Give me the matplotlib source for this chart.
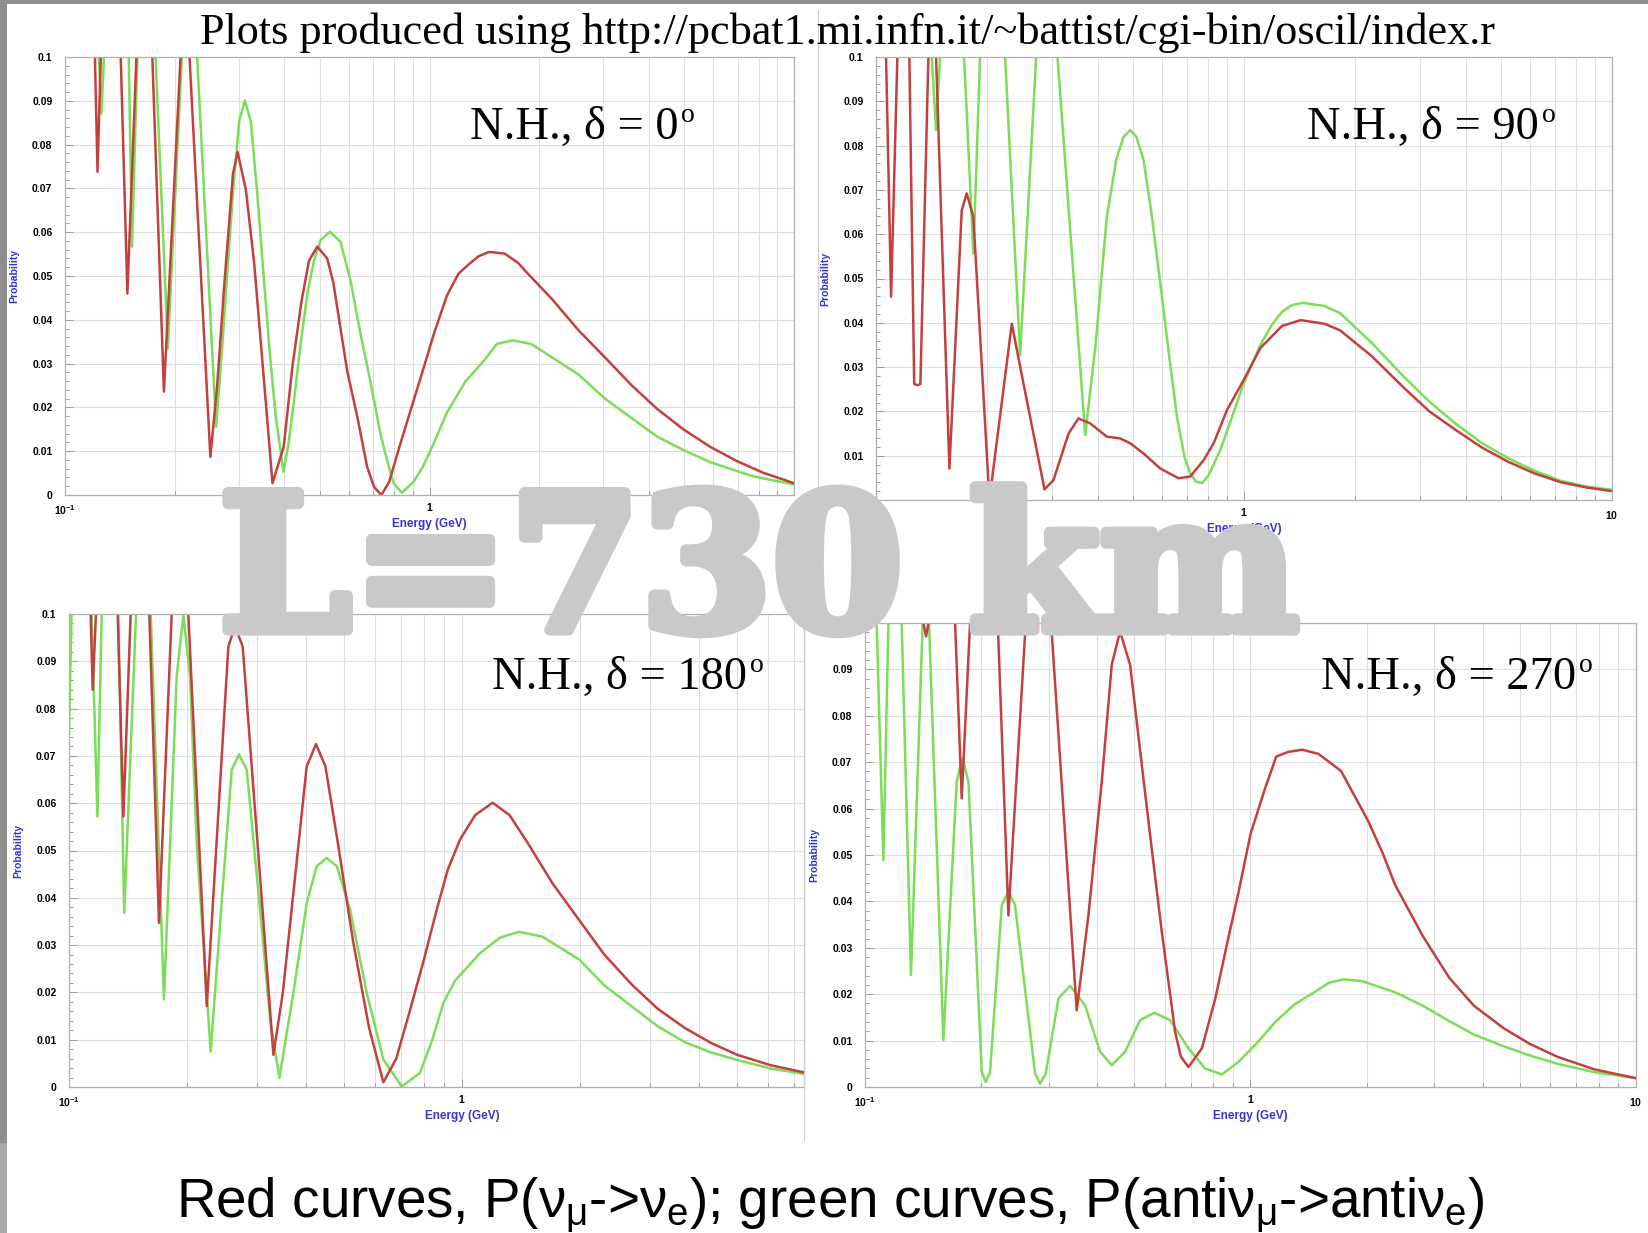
import numpy as np
import matplotlib
matplotlib.use("Agg")
import matplotlib.pyplot as plt
from matplotlib import font_manager, patheffects
from matplotlib.patches import Rectangle
from matplotlib.lines import Line2D
from matplotlib.ticker import FixedLocator, MultipleLocator, NullFormatter

nan = np.nan

# energies in GeV, probabilities; nan = curve is off the top of the scale
# N.H., delta = 0
e_red_0 = [0.1208, 0.1228, 0.1254, nan, 0.1422, 0.1483, 0.157, nan, 0.1736, 0.1868, 0.2075, nan,
           0.2196, 0.2505, 0.2615, 0.2737, 0.289, 0.2976, 0.3136, 0.3304, 0.352, 0.3709,
           0.398, 0.4206, 0.445, 0.467, 0.4923, 0.524, 0.5447, 0.594, 0.635, 0.674,
           0.705, 0.738, 0.775, 0.827, 0.885, 0.945, 1.03, 1.116, 1.2, 1.275,
           1.363, 1.456, 1.609, 1.75, 1.839, 2.17, 2.564, 3.03, 3.58, 4.22,
           4.99, 5.89, 6.95, 8.22, 10.0]
p_red_0 = [0.1, 0.0738, 0.1, nan, 0.1, 0.046, 0.1, nan, 0.1, 0.0236, 0.1, nan,
           0.1, 0.0087, 0.025, 0.0483, 0.0734, 0.0783, 0.0696, 0.0529, 0.0255, 0.0027,
           0.011, 0.0293, 0.044, 0.0535, 0.0567, 0.054, 0.0485, 0.0285, 0.0175, 0.0065,
           0.0018, 0.0, 0.003, 0.011, 0.019, 0.0267, 0.037, 0.0455, 0.0505, 0.0525,
           0.0545, 0.0555, 0.0551, 0.053, 0.051, 0.0447, 0.0376, 0.0314, 0.0251, 0.0196,
           0.0149, 0.011, 0.0078, 0.0051, 0.0027]
e_green_0 = [0.1238, 0.1259, 0.1279, nan, 0.1496, 0.1527, 0.158, nan, 0.1772, 0.1915, 0.2092, nan,
             0.2304, 0.2597, 0.269, 0.2795, 0.2905, 0.3007, 0.3116, 0.3236, 0.337, 0.352,
             0.365, 0.3787, 0.3975, 0.41, 0.425, 0.443, 0.4623, 0.482, 0.5028, 0.5329,
             0.570, 0.607, 0.6464, 0.69, 0.733, 0.767, 0.797, 0.840, 0.904, 0.96,
             1.027, 1.116, 1.254, 1.409, 1.531, 1.69, 1.901, 2.17, 2.564, 3.03,
             3.58, 4.22, 4.99, 5.89, 7.69, 10.0]
p_green_0 = [0.1, 0.0871, 0.1, nan, 0.1, 0.0567, 0.1, nan, 0.1, 0.0335, 0.1, nan,
             0.1, 0.0156, 0.032, 0.0521, 0.0715, 0.0855, 0.0901, 0.0852, 0.0685, 0.0483,
             0.032, 0.0179, 0.0053, 0.0115, 0.0217, 0.0345, 0.046, 0.0535, 0.0582, 0.0601,
             0.0578, 0.049, 0.0369, 0.0255, 0.0141, 0.0075, 0.0027, 0.0005, 0.003, 0.0065,
             0.0118, 0.0188, 0.0259, 0.0306, 0.0345, 0.0353, 0.0345, 0.0314, 0.0275, 0.022,
             0.0176, 0.0133, 0.0102, 0.0075, 0.0043, 0.0024]

# N.H., delta = 90
e_red_90 = [0.1065, 0.1099, 0.1143, nan, 0.1232, 0.127, 0.1296, 0.132, 0.1388, nan,
            0.1456, 0.1583, 0.171, 0.1764, 0.1839, 0.2033, 0.2339, 0.2516, 0.287, 0.3036,
            0.3336, 0.3549, 0.382, 0.4238, 0.4609, 0.4907, 0.5335, 0.5922, 0.6643, 0.7145,
            0.777, 0.827, 0.899, 0.998, 1.108, 1.269, 1.425, 1.652, 1.824, 2.222,
            2.706, 3.19, 3.762, 4.44, 5.23, 6.16, 7.265, 8.57, 10.0]
p_red_90 = [0.1, 0.0459, 0.1, nan, 0.1, 0.0262, 0.0259, 0.0262, 0.1, nan,
            0.1, 0.0071, 0.0654, 0.0692, 0.0639, 0.0, 0.0398, 0.0263, 0.0024, 0.0045,
            0.015, 0.0184, 0.0173, 0.0143, 0.0139, 0.0128, 0.0105, 0.0071, 0.0049, 0.0053,
            0.009, 0.0128, 0.0203, 0.0271, 0.0343, 0.0393, 0.0406, 0.0398, 0.0383, 0.0325,
            0.0255, 0.02, 0.0158, 0.0118, 0.0086, 0.006, 0.004, 0.0028, 0.002]
e_green_90 = [0.1417, 0.1456, 0.1493, nan, 0.1735, 0.1839, 0.1918, nan, 0.2243, 0.2464, 0.2724, nan,
              0.3113, 0.3703, 0.395, 0.4238, 0.45, 0.4708, 0.4907, 0.51, 0.5335, 0.56,
              0.5922, 0.625, 0.6574, 0.69, 0.7145, 0.74, 0.7686, 0.8, 0.862, 0.93,
              0.998, 1.108, 1.189, 1.269, 1.35, 1.448, 1.652, 1.824, 2.222, 2.706,
              3.19, 3.762, 4.44, 5.23, 6.16, 7.265, 8.57, 10.0]
p_green_90 = [0.1, 0.0835, 0.1, nan, 0.1, 0.0556, 0.1, nan, 0.1, 0.0327, 0.1, nan,
              0.1, 0.0147, 0.035, 0.0639, 0.077, 0.082, 0.0835, 0.082, 0.0767, 0.065,
              0.0489, 0.033, 0.0188, 0.0095, 0.006, 0.0042, 0.0038, 0.0055, 0.0113, 0.019,
              0.0263, 0.035, 0.0395, 0.0425, 0.044, 0.0445, 0.0438, 0.0422, 0.0355, 0.028,
              0.0222, 0.0172, 0.0128, 0.0094, 0.0066, 0.0043, 0.003, 0.0023]

# N.H., delta = 180
e_red_180 = [0.1135, 0.1149, 0.1171, nan, 0.133, 0.1375, 0.1435, nan, 0.1601, 0.1694, 0.1825, nan,
             0.2012, 0.2241, 0.2543, 0.2645, 0.2766, 0.3062, 0.3311, 0.35, 0.3722, 0.39,
             0.4025, 0.425, 0.449, 0.48, 0.5291, 0.58, 0.6306, 0.68, 0.7375, 0.80,
             0.862, 0.92, 0.988, 1.08, 1.196, 1.32, 1.461, 1.7, 1.989, 2.3,
             2.706, 3.15, 3.684, 4.3, 5.013, 6.1, 7.486]
p_red_180 = [0.1, 0.084, 0.1, nan, 0.1, 0.0572, 0.1, nan, 0.1, 0.0347, 0.1, nan,
             0.1, 0.0171, 0.0931, 0.0974, 0.0931, 0.0445, 0.0068, 0.02, 0.041, 0.057,
             0.0678, 0.0725, 0.0678, 0.053, 0.0304, 0.0125, 0.001, 0.006, 0.0163, 0.027,
             0.0375, 0.046, 0.0523, 0.0575, 0.0601, 0.0575, 0.0519, 0.043, 0.0352, 0.028,
             0.0216, 0.0165, 0.0125, 0.0093, 0.0068, 0.0046, 0.003]
e_green_180 = [0.1, 0.1015, nan, 0.1142, 0.1181, 0.1211, nan, 0.1335, 0.1382, 0.1481, nan,
               0.1614, 0.1744, 0.1879, 0.1954, 0.2032, 0.2113, 0.2293, 0.244, 0.2594, 0.2708,
               0.2832, 0.3062, 0.325, 0.3429, 0.3722, 0.4025, 0.4268, 0.4523, 0.4799, 0.5188,
               0.572, 0.6306, 0.7023, 0.7818, 0.84, 0.8964, 0.96, 1.111, 1.25, 1.395,
               1.6, 1.989, 2.3, 2.706, 3.15, 3.684, 4.3, 5.013, 6.1, 7.486]
p_green_180 = [0.075, 0.1, nan, 0.1, 0.0572, 0.1, nan, 0.1, 0.0368, 0.1, nan,
               0.1, 0.0185, 0.0868, 0.0997, 0.0868, 0.0516, 0.0075, 0.038, 0.0671, 0.0703,
               0.0671, 0.0375, 0.014, 0.0019, 0.0199, 0.0389, 0.0467, 0.0484, 0.0467, 0.0375,
               0.0199, 0.0058, 0.0001, 0.003, 0.01, 0.0178, 0.0225, 0.0283, 0.0316, 0.0328,
               0.0318, 0.0269, 0.0215, 0.017, 0.0128, 0.0095, 0.0073, 0.0057, 0.0039, 0.0027]

# N.H., delta = 270
e_red_270 = [0.1417, 0.144, 0.1461, nan, 0.1713, 0.1782, 0.1873, nan, 0.221, 0.2355, 0.2612, nan,
             0.3039, 0.3541, 0.3798, 0.4113, 0.4366, 0.4588, 0.4871, 0.5224, 0.555, 0.5886,
             0.6374, 0.66, 0.6905, 0.7477, 0.81, 0.87, 0.931, 1.0, 1.0914, 1.166,
             1.25, 1.361, 1.5, 1.718, 2.02, 2.2, 2.374, 2.8, 3.28, 3.8,
             4.53, 5.3, 6.26, 7.8, 10.0]
p_red_270 = [0.1, 0.0971, 0.1, nan, 0.1, 0.0622, 0.1, nan, 0.1, 0.037, 0.1, nan,
             0.1, 0.0165, 0.037, 0.0658, 0.091, 0.0982, 0.091, 0.0694, 0.051, 0.0335,
             0.0119, 0.0065, 0.0043, 0.0083, 0.019, 0.031, 0.042, 0.0545, 0.0644, 0.0712,
             0.0722, 0.0727, 0.0718, 0.0681, 0.0573, 0.0505, 0.0435, 0.0325, 0.0235, 0.0175,
             0.0127, 0.0093, 0.0065, 0.0038, 0.0019]
e_green_270 = [0.1072, 0.1116, 0.115, nan, 0.1245, 0.1316, 0.1411, nan,
               0.1466, 0.1597, 0.1729, 0.1789, 0.1855, 0.2009, 0.2056, 0.211, 0.2264, 0.2355,
               0.245, 0.2762, 0.2846, 0.2943, 0.3175, 0.3404, 0.3724, 0.4073, 0.4366, 0.473,
               0.5172, 0.5636, 0.6188, 0.6905, 0.7627, 0.8426, 0.931, 1.04, 1.159, 1.3,
               1.462, 1.6, 1.747, 1.95, 2.374, 2.8, 3.28, 3.8, 4.53, 5.3,
               6.26, 7.8, 10.0]
p_green_270 = [0.1, 0.0489, 0.1, nan, 0.1, 0.0241, 0.1, nan,
               0.1, 0.0101, 0.0658, 0.0709, 0.0658, 0.0032, 0.0011, 0.0032, 0.0392, 0.0421,
               0.0392, 0.0029, 0.0007, 0.0029, 0.0191, 0.0218, 0.0176, 0.0076, 0.0047, 0.0076,
               0.0144, 0.016, 0.0144, 0.0083, 0.004, 0.0027, 0.0054, 0.0095, 0.014, 0.0178,
               0.0204, 0.0225, 0.0232, 0.0228, 0.0204, 0.0175, 0.0142, 0.0113, 0.0088, 0.0068,
               0.005, 0.0032, 0.0019]

deltas = ["0", "90", "180", "270"]
y_ticks = [0, 0.01, 0.02, 0.03, 0.04, 0.05, 0.06, 0.07, 0.08, 0.09, 0.1]
y_tick_labels = ["0", "0.01", "0.02", "0.03", "0.04", "0.05", "0.06", "0.07", "0.08", "0.09", "0.1"]

title_text = "Plots produced using http://pcbat1.mi.infn.it/~battist/cgi-bin/oscil/index.r"
caption_text = r"Red curves, P($\nu_\mu$->$\nu_e$); green curves, P(anti$\nu_\mu$->anti$\nu_e$)"
watermark_text = "L=730 km"

RED = "#c3403f"
GREEN = "#7ade58"
BLUE = "#3535d0"
GRID = "#dedede"
WM_GREY = "#c9c9c9"

W, H = 1648, 1233

installed = {f.name for f in font_manager.fontManager.ttflist}
sans_narrow = "Liberation Sans Narrow" if "Liberation Sans Narrow" in installed else "Liberation Sans"

plt.rcParams["mathtext.fontset"] = "custom"
plt.rcParams["mathtext.rm"] = sans_narrow
plt.rcParams["mathtext.it"] = sans_narrow
plt.rcParams["mathtext.bf"] = "Liberation Sans:bold"

fig = plt.figure(figsize=(W / 100, H / 100), dpi=100)
fig.patch.set_facecolor("white")
renderer = fig.canvas.get_renderer()


def px_axes(box):
    l, t, r, b = box
    return fig.add_axes([l / W, 1 - b / H, (r - l) / W, (b - t) / H])


def fit(t, width):
    # scale the font so the text spans the given pixel width
    for _ in range(2):
        w = t.get_window_extent(renderer=renderer).width
        t.set_fontsize(t.get_fontsize() * width / w)


# panel boxes in pixels (left, top, right, bottom), x limit, label position, "10" label shown
panels = [
    (e_red_0, p_red_0, e_green_0, p_green_0, (65, 57, 794, 495), 10.0, (470, 139), False),
    (e_red_90, p_red_90, e_green_90, p_green_90, (876, 57, 1612, 500), 10.0, (1307, 139), True),
    (e_red_180, p_red_180, e_green_180, p_green_180, (69, 614, 804, 1087), 7.41, (492, 689), False),
    (e_red_270, p_red_270, e_green_270, p_green_270, (865, 623, 1636, 1087), 10.0, (1321, 689), True),
]
minor_x = [k * d for d in (0.1, 1.0) for k in range(2, 10)]

for (e_r, p_r, e_g, p_g, box, xmax, lpos, ten), delta in zip(panels, deltas):
    ax = px_axes(box)
    ax.set_xscale("log")
    ax.plot(e_g, p_g, color=GREEN, lw=1.8, solid_joinstyle="round")
    ax.plot(e_r, p_r, color=RED, lw=1.8, solid_joinstyle="round")
    ax.set_xlim(0.1, xmax)
    ax.set_ylim(0, 0.1)
    ax.set_axisbelow(True)

    ax.yaxis.set_major_locator(FixedLocator(y_ticks))
    ax.set_yticklabels(y_tick_labels, fontsize=7.5, fontweight="bold", family="Liberation Sans")
    ax.yaxis.set_minor_locator(MultipleLocator(0.002))
    ax.xaxis.set_major_locator(FixedLocator([0.1, 1, 10]))
    ax.xaxis.set_minor_locator(FixedLocator(minor_x))
    ax.xaxis.set_major_formatter(NullFormatter())
    ax.xaxis.set_minor_formatter(NullFormatter())
    ax.grid(True, which="major", color=GRID, lw=0.8)
    ax.grid(True, which="minor", axis="x", color=GRID, lw=0.8)
    ax.tick_params(which="both", direction="in", color="#999999", width=0.7)
    ax.tick_params(which="major", length=6)
    ax.tick_params(which="minor", length=3)
    ax.tick_params(axis="y", pad=9)
    for s in ax.spines.values():
        s.set_color("#b0b0b0")
        s.set_linewidth(0.9)

    width_px = box[2] - box[0]
    ax.set_ylabel("Probability", color=BLUE, fontsize=7.5, fontweight="bold", family="Liberation Sans")
    ax.yaxis.set_label_coords(-46 / width_px, 0.5)

    xlabels = [(0.1, r"$\mathbf{10^{-1}}$", -15), (1, r"$\mathbf{1}$", -12)]
    if ten:
        xlabels.append((10, r"$\mathbf{10}$", -15))
    for xv, s, dy in xlabels:
        ax.annotate(s, xy=(xv, 0), xycoords=("data", "axes fraction"), xytext=(0, dy),
                    textcoords="offset pixels", ha="center", va="center", fontsize=7.5)
    ax.annotate("Energy (GeV)", xy=(1, 0), xycoords=("data", "axes fraction"), xytext=(0, -29),
                textcoords="offset pixels", ha="center", va="center", fontsize=8.5,
                fontweight="bold", color=BLUE, family="Liberation Sans")

    # panel label with a raised "o" for degrees
    t = fig.text(lpos[0] / W, 1 - lpos[1] / H, "N.H., \u03b4 = " + delta, family="Liberation Serif",
                 fontsize=33.5, ha="left", va="baseline")
    bb = t.get_window_extent(renderer=renderer)
    fig.text((bb.x1 + 3) / W, (H - lpos[1] + 17) / H, "o", family="Liberation Serif",
             fontsize=20, ha="left", va="baseline")

# slide frame and image borders
fig.add_artist(Rectangle((0, 1 - 1143 / H), 7 / W, 1143 / H, transform=fig.transFigure,
                         color="#8e8e8e", lw=0))
fig.add_artist(Rectangle((0, 0), 7 / W, (H - 1143) / H, transform=fig.transFigure,
                         color="#a9a9a9", lw=0))
fig.add_artist(Rectangle((0, 1 - 4 / H), 1, 4 / H, transform=fig.transFigure, color="#8e8e8e", lw=0))
fig.add_artist(Line2D([818 / W, 818 / W], [1 - 10 / H, 1 - 505 / H], transform=fig.transFigure,
                      color="#d0d0d0", lw=0.8))
fig.add_artist(Line2D([804 / W, 804 / W], [1 - 600 / H, 1 - 1140 / H], transform=fig.transFigure,
                      color="#cfcfcf", lw=0.8))

title = fig.text(848 / W, 1 - 33 / H, title_text, ha="center", va="center",
                 family="Liberation Serif", fontsize=30)
fit(title, 1293)

cap = fig.text(830 / W, 1 - 1217 / H, caption_text, ha="center", va="baseline",
               family=sans_narrow, fontsize=36)
fit(cap, 1307)

wm = fig.text(219 / W, 1 - 630 / H, watermark_text, ha="left", va="baseline", family="DejaVu Serif",
              fontweight="bold", color=WM_GREY, fontsize=150, zorder=10,
              path_effects=[patheffects.withStroke(linewidth=8, foreground=WM_GREY)])
fit(wm, 1080)

fig.savefig("out.png", dpi=100)
